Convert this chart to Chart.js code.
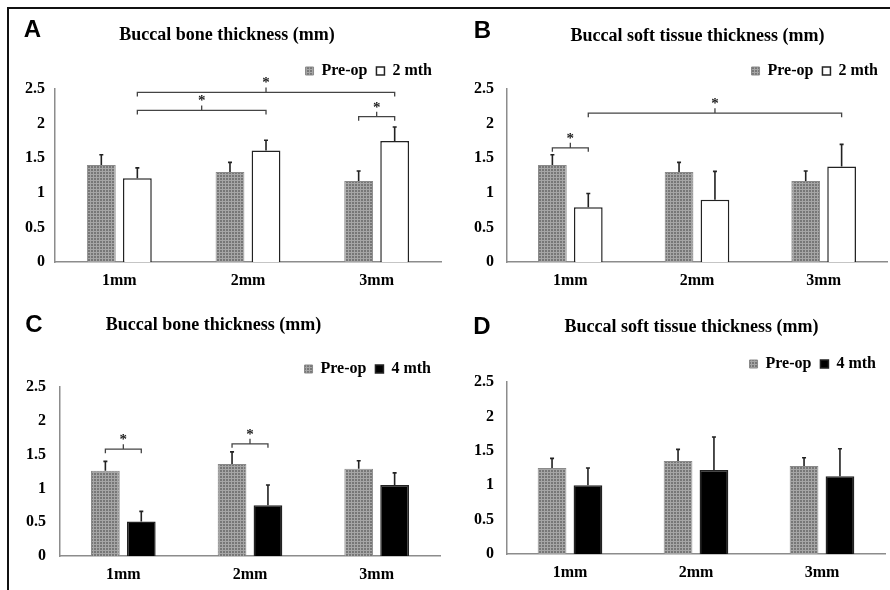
<!DOCTYPE html>
<html><head><meta charset="utf-8">
<script src="https://cdn.jsdelivr.net/npm/chart.js@4/dist/chart.umd.min.js"></script>
<style>
html,body{margin:0;padding:0;background:#fff;width:890px;height:590px;overflow:hidden;}
.panel{position:absolute;width:445px;height:295px;}
.frame{position:absolute;left:7px;top:7px;width:900px;height:600px;border-top:2px solid #111;border-left:2px solid #111;box-sizing:border-box;}
canvas{display:block;}
</style></head><body>
<div class="frame"></div>
<div class="panel" style="left:0;top:0"><canvas id="cA" width="445" height="295"></canvas></div>
<div class="panel" style="left:445px;top:0"><canvas id="cB" width="445" height="295"></canvas></div>
<div class="panel" style="left:0;top:295px"><canvas id="cC" width="445" height="295"></canvas></div>
<div class="panel" style="left:445px;top:295px"><canvas id="cD" width="445" height="295"></canvas></div>
<script>
// ---------------- data ----------------
const categories = ['1mm', '2mm', '3mm'];
const yTickValues = [0, 0.5, 1, 1.5, 2, 2.5];
const yTickLabels = ['0', '0.5', '1', '1.5', '2', '2.5'];
const seriesNames = ['Pre-op', '2 mth', '4 mth'];
const panelLetters = ['A', 'B', 'C', 'D'];
const panelTitles = ['Buccal bone thickness (mm)', 'Buccal soft tissue thickness (mm)',
                     'Buccal bone thickness (mm)', 'Buccal soft tissue thickness (mm)'];

// Panel A: buccal bone, pre-op vs 2 months
const boneA_pre      = [1.40, 1.30, 1.17];
const boneA_preErr   = [0.15, 0.14, 0.145];
const boneA_2m       = [1.21, 1.61, 1.75];
const boneA_2mErr    = [0.15, 0.15, 0.20];
// Panel B: buccal soft tissue, pre-op vs 2 months
const softB_pre      = [1.40, 1.30, 1.17];
const softB_preErr   = [0.15, 0.14, 0.145];
const softB_2m       = [0.79, 0.90, 1.38];
const softB_2mErr    = [0.20, 0.41, 0.32];
// Panel C: buccal bone, pre-op vs 4 months
const boneC_pre      = [1.26, 1.36, 1.29];
const boneC_preErr   = [0.14, 0.18, 0.12];
const boneC_4m       = [0.51, 0.75, 1.05];
const boneC_4mErr    = [0.15, 0.30, 0.18];
// Panel D: buccal soft tissue, pre-op vs 4 months
const softD_pre      = [1.25, 1.35, 1.28];
const softD_preErr   = [0.14, 0.17, 0.12];
const softD_4m       = [1.00, 1.22, 1.13];
const softD_4mErr    = [0.25, 0.48, 0.40];

// significance brackets: [category, dataset] -> [category, dataset] at value y
const bracketsA = [
  {from: [0, 1], to: [1, 1], y: 2.19},
  {from: [0, 1], to: [2, 1], y: 2.45},
  {from: [2, 0], to: [2, 1], y: 2.10}
];
const bracketsB = [
  {from: [0, 0], to: [0, 1], y: 1.65},
  {from: [0, 1], to: [2, 1], y: 2.15}
];
const bracketsC = [
  {from: [0, 0], to: [0, 1], y: 1.58},
  {from: [1, 0], to: [1, 1], y: 1.66}
];
const bracketsD = [];

// ---------------- styling ----------------
const SERIF = "'Liberation Serif', 'Times New Roman', serif";
const SANS = "'Liberation Sans', Arial, sans-serif";

function makePattern() {
  const c = document.createElement('canvas');
  c.width = 3; c.height = 3;
  const g = c.getContext('2d');
  g.fillStyle = '#777777';
  g.fillRect(0, 0, 3, 3);
  g.fillStyle = '#a6a6a6';
  g.fillRect(0, 0, 3, 1);
  g.fillRect(0, 0, 1, 3);
  return document.getElementById('cA').getContext('2d').createPattern(c, 'repeat');
}
const gridPattern = makePattern();

const annotPlugin = {
  id: 'annot',
  afterDatasetsDraw(chart, args, opts) {
    const ctx = chart.ctx;
    const ys = chart.scales.y;
    // error bars (upper only)
    chart.data.datasets.forEach((ds, di) => {
      const meta = chart.getDatasetMeta(di);
      meta.data.forEach((bar, j) => {
        const top = ys.getPixelForValue(ds.data[j] + ds.errors[j]);
        ctx.save();
        ctx.strokeStyle = '#222';
        ctx.lineWidth = 1.6;
        ctx.beginPath();
        ctx.moveTo(bar.x, bar.y);
        ctx.lineTo(bar.x, top);
        ctx.moveTo(bar.x - 2, top);
        ctx.lineTo(bar.x + 2, top);
        ctx.stroke();
        ctx.restore();
      });
    });
    // brackets
    (opts.brackets || []).forEach(b => {
      const x1 = chart.getDatasetMeta(b.from[1]).data[b.from[0]].x;
      const x2 = chart.getDatasetMeta(b.to[1]).data[b.to[0]].x;
      const y = ys.getPixelForValue(b.y);
      const xm = (x1 + x2) / 2;
      ctx.save();
      ctx.strokeStyle = '#444';
      ctx.lineWidth = 1.3;
      ctx.beginPath();
      ctx.moveTo(x1, y + 4); ctx.lineTo(x1, y); ctx.lineTo(x2, y); ctx.lineTo(x2, y + 4);
      ctx.moveTo(xm, y); ctx.lineTo(xm, y - 5);
      ctx.stroke();
      ctx.fillStyle = '#222';
      ctx.font = 'bold 15px ' + SERIF;
      ctx.textAlign = 'center';
      ctx.textBaseline = 'middle';
      ctx.fillText('*', xm, y - 9);
      ctx.restore();
    });
  },
  afterDraw(chart, args, opts) {
    const ctx = chart.ctx;
    ctx.save();
    ctx.fillStyle = '#000';
    ctx.textBaseline = 'middle';
    ctx.textAlign = 'center';
    ctx.font = 'bold 24px ' + SANS;
    ctx.fillText(opts.letter, opts.letterPos[0], opts.letterPos[1]);
    ctx.font = 'bold 18px ' + SERIF;
    ctx.fillText(opts.title, opts.titlePos[0], opts.titlePos[1]);
    ctx.restore();
  }
};

function makeChart(id, p) {
  const tickFont = {family: SERIF, weight: 'bold', size: 16};
  return new Chart(document.getElementById(id), {
    type: 'bar',
    data: {
      labels: categories,
      datasets: [
        {label: seriesNames[0], data: p.pre, errors: p.preErr,
         backgroundColor: gridPattern, borderColor: '#8a8a8a', borderWidth: 1,
         barPercentage: 0.8, categoryPercentage: p.catPct},
        {label: p.secondName, data: p.second, errors: p.secondErr,
         backgroundColor: p.secondFill, borderColor: '#222', borderWidth: 1.5,
         barPercentage: 0.8, categoryPercentage: p.catPct}
      ]
    },
    options: {
      responsive: false,
      animation: false,
      layout: {padding: p.pad},
      plugins: {
        title: {display: false},
        tooltip: {enabled: false},
        legend: {
          position: 'top', align: 'end', fullSize: false,
          labels: {boxWidth: 8, boxHeight: 8, padding: 9, color: '#000',
                   font: {family: SERIF, weight: 'bold', size: 16}}
        },
        annot: {brackets: p.brackets, letter: p.letter, title: p.title,
                letterPos: p.letterPos, titlePos: p.titlePos}
      },
      scales: {
        x: {
          grid: {display: false, drawTicks: false},
          border: {display: true, color: '#8c8c8c', width: 1.5},
          ticks: {color: '#000', font: tickFont, padding: 9},
          afterFit(s) { s.height = 30; }
        },
        y: {
          min: 0, max: 2.5,
          grid: {display: false, drawTicks: false},
          border: {display: true, color: '#8c8c8c', width: 1.5},
          ticks: {color: '#000', font: tickFont, padding: p.yPad,
                  callback: (v, i) => yTickLabels[i]},
          afterBuildTicks(s) { s.ticks = yTickValues.map(v => ({value: v})); },
          afterFit(s) { s.width = p.yWidth; }
        }
      }
    },
    plugins: [annotPlugin]
  });
}

makeChart('cA', {
  pre: boneA_pre, preErr: boneA_preErr, second: boneA_2m, secondErr: boneA_2mErr,
  secondName: seriesNames[1], secondFill: '#ffffff', brackets: bracketsA,
  letter: panelLetters[0], title: panelTitles[0], letterPos: [32.5, 30], titlePos: [227, 35],
  pad: {left: 0, right: 4, top: 54, bottom: 3}, yWidth: 55, yPad: 10, catPct: 0.56
});
makeChart('cB', {
  pre: softB_pre, preErr: softB_preErr, second: softB_2m, secondErr: softB_2mErr,
  secondName: seriesNames[1], secondFill: '#ffffff', brackets: bracketsB,
  letter: panelLetters[1], title: panelTitles[1], letterPos: [37.5, 31.5], titlePos: [252.5, 36],
  pad: {left: 0, right: 3, top: 54, bottom: 3}, yWidth: 62, yPad: 13, catPct: 0.567
});
makeChart('cC', {
  pre: boneC_pre, preErr: boneC_preErr, second: boneC_4m, secondErr: boneC_4mErr,
  secondName: seriesNames[2], secondFill: '#000000', brackets: bracketsC,
  letter: panelLetters[2], title: panelTitles[2], letterPos: [34, 30], titlePos: [213.5, 30],
  pad: {left: 0, right: 5, top: 57, bottom: 4}, yWidth: 60, yPad: 14, catPct: 0.567
});
makeChart('cD', {
  pre: softD_pre, preErr: softD_preErr, second: softD_4m, secondErr: softD_4mErr,
  secondName: seriesNames[2], secondFill: '#000000', brackets: bracketsD,
  letter: panelLetters[3], title: panelTitles[3], letterPos: [37, 32], titlePos: [246.5, 32],
  pad: {left: 0, right: 5, top: 52, bottom: 6}, yWidth: 62, yPad: 13, catPct: 0.57
});
</script>
</body></html>
